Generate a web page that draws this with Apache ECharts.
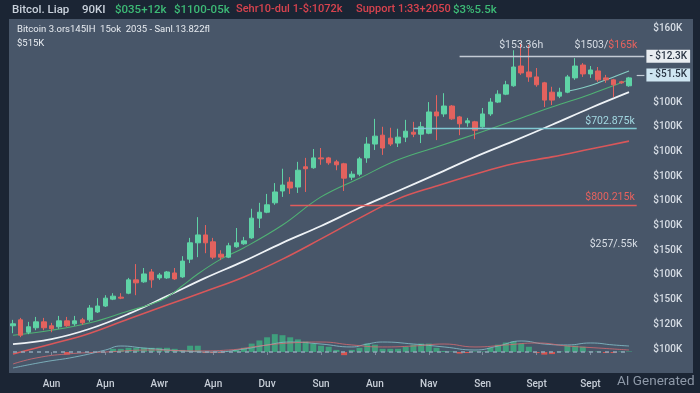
<!DOCTYPE html>
<html><head><meta charset="utf-8">
<script src="https://cdn.jsdelivr.net/npm/echarts@6/dist/echarts.min.js"></script>
<style>html,body{margin:0;padding:0;background:#1b2534;}#c{width:700px;height:393px;}</style>
</head><body><div id="c"></div><script>
// ---- data ----
const xTickLabels = ["Aun","Aμn","Awr","Aμn","Duv","Sun","Aun","Nav","Sen","Sept","Sept"];
const yTickLabels = ["", "$100K","$120K","$150K","$100K","$150K","$100K","$100K","$100K","$100K","$100K","$100K","","","$160K"];
const open = [99.7,100.9,98.4,99.3,100.5,99.7,99.5,100.7,100.1,100.9,
  100.9,102.5,103.7,105.1,105.5,106.3,109.0,108.6,110.6,109.4,
  109.4,110.4,109.6,113.2,116.5,118.1,116.7,114.2,113.6,115.7,
  116.3,117.5,121.5,122.7,124.6,127.0,128.8,127.8,131.9,131.7,
  133.7,133.7,132.9,132.5,129.8,130.4,133.7,136.5,138.3,137.7,
  136.7,137.9,138.9,138.5,138.7,143.0,142.6,144.2,142.0,140.8,
  141.0,140.0,142.6,145.0,146.6,148.3,152.3,151.1,150.1,148.9,
  147.0,146.2,147.0,149.9,152.5,150.7,151.3,149.9,149.5,149.1,148.3];
const close = [100.1,97.8,99.5,100.5,99.3,99.1,100.7,99.7,100.7,100.3,
  103.3,103.7,105.3,105.7,105.3,109.0,108.4,110.2,109.0,110.0,
  110.6,109.2,112.8,116.5,118.1,116.5,113.6,113.6,115.9,116.5,
  116.9,121.5,122.7,124.2,126.8,128.2,127.6,131.2,131.5,133.7,
  133.5,132.7,132.3,129.6,130.4,133.5,136.5,138.1,135.7,136.5,
  137.9,139.1,138.5,140.0,143.0,142.2,144.2,141.6,140.6,141.2,
  139.3,142.6,145.0,146.6,148.5,152.1,150.9,150.1,148.5,145.4,
  145.4,147.0,150.1,152.3,150.7,151.5,149.5,149.5,148.5,148.9,149.9];
const low = [98.2,97.4,98.0,98.8,98.8,98.4,99.1,99.5,99.7,99.9,
  100.5,102.3,103.5,104.9,105.1,106.1,105.9,108.4,107.4,109.0,
  109.2,109.0,109.4,112.4,113.6,114.4,113.2,113.0,113.4,115.5,
  116.1,117.3,119.5,122.5,124.2,125.8,126.4,126.6,126.8,131.5,
  132.3,132.3,131.2,127.0,129.2,130.0,132.7,135.3,134.3,136.1,
  135.9,136.9,137.9,136.7,138.5,137.3,142.0,141.4,138.3,140.0,
  137.5,139.8,142.2,144.8,146.4,148.1,150.5,149.1,148.1,144.0,
  144.4,145.8,146.8,149.5,150.1,149.9,149.1,148.9,146.0,148.7,148.1];
const high = [100.9,101.3,100.5,101.5,101.3,100.3,101.7,101.5,101.7,101.3,
  103.9,105.3,105.9,106.3,106.3,109.4,112.2,111.4,111.2,110.4,
  110.8,111.4,113.8,117.5,121.7,120.1,117.5,115.0,116.5,119.5,
  117.7,123.4,124.6,126.4,128.6,131.5,129.8,132.9,133.7,135.5,
  135.7,133.9,133.3,132.7,131.0,133.9,137.9,141.6,140.0,139.8,
  139.6,141.4,141.0,141.0,145.0,146.4,146.8,144.4,142.2,141.8,
  141.2,143.8,145.8,147.4,149.3,155.5,157.0,156.6,151.9,149.1,
  148.1,147.9,150.5,153.9,152.9,152.3,152.1,150.5,149.7,149.3,150.1];
// moving averages as [candle index, value]
const maGreen = [[0,97.8],[5,98.8],[10,100.3],[15,102.7],[18,104.1],[20,105.5],[22,107.8],[24,110.2],[27,113.2],[30,115.5],[35,120.1],[40,125.8],[45,129.6],[50,133.3],[55,135.9],[60,138.5],[65,141.2],[70,144.0],[75,146.6],[80,149.5]];
const maTeal = [[72,147.2],[74,147.9],[76,148.9],[78,150.1],[80,151.3]];
const maWhite = [[0,96.0],[5,97.0],[10,99.1],[15,102.1],[20,105.7],[25,109.4],[30,112.8],[35,116.5],[40,119.9],[45,123.6],[50,127.0],[55,130.4],[60,133.9],[65,137.1],[70,140.4],[75,143.8],[80,147.0]];
const maRed = [[0,94.0],[5,96.0],[10,98.2],[15,101.1],[20,103.9],[25,106.7],[30,109.6],[35,113.2],[40,117.3],[45,121.5],[50,125.4],[55,128.0],[60,130.4],[65,132.5],[70,133.9],[75,135.5],[80,137.1]];
// lower pane
const histogram = [0,0,0,0,0,0,0,-2.5,0,0,0,0,0,
  3,3,4,4,4,4,4,4,3,2,6,6,
  -1,-1,-1,0.5,2,4,8,11,14,17,16,14,12,10,8,6,5,2,-3,
  2,4,8,7,3,3,3,5,7,8,8,4,1,0.5,-1.5,-1,0.5,0.5,
  4,7,9,10,8,5,-1,-2.5,-2,0.5,6,6,5,0.5,0.5,-1,-1,0.5,0.5];
const macdLine = [[0,-15.2],[4,-9.5],[8,-4.8],[12,1.9],[14,5.7],[17,3.8],[22,1.0],[26,0],[30,2.9],[33,6.7],[36,9.5],[40,7.6],[44,4.8],[46,7.6],[48,9.5],[52,7.6],[56,4.8],[60,1.9],[63,5.7],[66,10.5],[69,7.6],[72,6.7],[75,8.6],[78,6.7],[80,5.7]];
const signalLine = [[0,-11.4],[3,-5.7],[7,-1.9],[12,0],[18,1.9],[24,1.0],[28,1.9],[32,5.7],[36,8.6],[40,9.5],[44,6.7],[48,4.8],[52,5.7],[56,7.6],[60,4.8],[64,6.7],[68,8.6],[72,5.7],[76,3.8],[80,1.9]];
// levels
const levelTop = 154.3, levelBox = 150.5, levelTeal = 139.6, levelRed = 124.2;

// ---- build ----
const nCats = open.length + 2;
const categories = [];
for (let i = 0; i < nCats; i++) categories.push('d' + i);
const ohlc = open.map((o, i) => [o, close[i], low[i], high[i]]);
const showTick = (i) => i >= 5 && i <= 75 && (i - 5) % 7 === 0;

const UP = '#5fd3a6', DOWN = '#e4625e';
const FONT = 'Roboto, "Liberation Sans", sans-serif';
const txt = (x, y, t, color, size, weight) => ({
  type: 'text', left: x, top: y, z: 10,
  style: { text: t, fill: color, font: (weight || 'normal') + ' ' + size + 'px ' + FONT }
});

const chart = echarts.init(document.getElementById('c'), null, { renderer: 'canvas' });
chart.setOption({
  animation: false,
  backgroundColor: '#1b2534',
  textStyle: { fontFamily: FONT },
  graphic: [
    { type: 'rect', shape: { x: 9, y: 19, width: 684, height: 354 }, style: { fill: '#485669' }, z: -10 },
    txt(12, 4, 'Bitcol. Liap', '#c9d1db', 11.5, '500'),
    txt(82, 4, '90KI', '#c9d1db', 11.5, '500'),
    txt(115, 4, '$035+12k', '#3dba76', 11.5, '500'),
    txt(174, 4, '$1100-05k', '#3dba76', 11.5, '500'),
    txt(236, 4, 'Sehr10-dul 1-$:1072k', '#d8434e', 11, '500'),
    txt(356, 4, 'Support 1:33+2050', '#d8434e', 11, '500'),
    txt(453, 4, '$3%5.5k', '#3dba76', 11.5, '500'),
    txt(17, 25, 'Bitcoin 3.ors145IH  15ok  2035 - Sanl.13.822fl', '#e8ecf1', 9.5),
    txt(17, 39, '$515K', '#e8ecf1', 9.5),
    txt(617, 375, 'AI Generated', '#8e99a8', 13.5)
  ],
  grid: [
    { left: 9.15, right: 51.75, top: 28, bottom: 19.3 },
    { left: 9.15, right: 51.75, top: 331, bottom: 20 }
  ],
  xAxis: [
    { type: 'category', gridIndex: 0, data: categories, boundaryGap: true,
      axisLine: { show: false }, axisTick: { show: false }, axisLabel: { show: false }, splitLine: { show: false } },
    { type: 'category', gridIndex: 1, data: categories, boundaryGap: true,
      axisLine: { show: false },
      axisTick: { show: true, interval: showTick, alignWithLabel: true, length: 3, lineStyle: { color: '#7d8b9c' } },
      axisLabel: { interval: showTick, margin: 6, color: '#c8cfd8', fontSize: 10, fontWeight: 500,
        formatter: (v, i) => xTickLabels[(i - 5) / 7] || '' },
      splitLine: { show: false } }
  ],
  yAxis: [
    { type: 'value', gridIndex: 0, position: 'right', min: 90, max: 160, interval: 5,
      axisLine: { show: false }, axisTick: { show: false }, splitLine: { show: false },
      axisLabel: { margin: 5, color: '#d7dde5', fontSize: 10, fontWeight: 500,
        formatter: (v) => yTickLabels[Math.round((v - 90) / 5)] || '' } },
    { type: 'value', gridIndex: 1, min: -20, max: 20, show: false }
  ],
  series: [
    { type: 'line', name: 'MA red', data: maRed, smooth: 0.4, symbol: 'none', connectNulls: true,
      lineStyle: { color: '#d9575a', width: 1.6 }, z: 2 },
    { type: 'line', name: 'MA white', data: maWhite, smooth: 0.4, symbol: 'none',
      lineStyle: { color: '#eef2f6', width: 1.8 }, z: 2 },
    { type: 'line', name: 'MA green', data: maGreen, smooth: 0.4, symbol: 'none',
      lineStyle: { color: '#4fb274', width: 1.1 }, z: 2 },
    { type: 'line', name: 'MA teal', data: maTeal, smooth: 0.4, symbol: 'none',
      lineStyle: { color: '#86cfc4', width: 1.1 }, z: 2 },
    { type: 'candlestick', name: 'BTC', data: ohlc, barWidth: 5, z: 3,
      itemStyle: { color: UP, color0: DOWN, borderColor: UP, borderColor0: DOWN, borderWidth: 1 },
      markLine: {
        symbol: ['none', 'none'], silent: true,
        data: [
          [ { coord: [58, levelTop], lineStyle: { color: '#c3cbd5', width: 1.3, type: 'solid' },
              label: { show: true, position: 'end', distance: 2, formatter: '- $12.3K', color: '#2a3544',
                backgroundColor: '#e9edf1', padding: [2, 3, 1, 3], fontSize: 10, fontWeight: 500 } },
            { coord: [82, levelTop] } ],
          [ { coord: [81, levelBox], lineStyle: { color: '#c3cbd5', width: 1.2, type: 'solid' },
              label: { show: true, position: 'end', distance: 2, formatter: '- $51.5K', color: '#2a3544',
                backgroundColor: '#cfe6f2', padding: [2, 3, 1, 3], fontSize: 10, fontWeight: 500 } },
            { coord: [82, levelBox] } ],
          [ { coord: [52, levelTeal], lineStyle: { color: '#7fc8d2', width: 1.3, type: 'solid' },
              label: { show: true, position: 'insideEndTop', distance: 2, formatter: '$702.875k', color: '#a3d8e2', fontSize: 10.5 } },
            { coord: [81, levelTeal] } ],
          [ { coord: [36, levelRed], lineStyle: { color: '#e05c5c', width: 1.3, type: 'solid' },
              label: { show: true, position: 'insideEndTop', distance: 2, formatter: '$800.215k', color: '#e8625e', fontSize: 10.5 } },
            { coord: [81, levelRed] } ]
        ]
      },
      markPoint: {
        symbol: 'rect', symbolSize: 1, itemStyle: { color: 'rgba(0,0,0,0)' }, silent: true,
        label: { show: true, position: 'inside', fontSize: 10.5, color: '#d7dde5' },
        data: [
          { coord: [66, 156.4], label: { formatter: '$153.36h' } },
          { coord: [77, 156.4], label: { formatter: '{a|$1503/}{b|$165k}',
              rich: { a: { color: '#d7dde5', fontSize: 10.5 }, b: { color: '#e8625e', fontSize: 10.5 } } } },
          { coord: [78, 116.1], label: { formatter: '$257/.55k' } }
        ]
      }
    },
    { type: 'bar', name: 'hist', xAxisIndex: 1, yAxisIndex: 1, data: histogram, barWidth: 6,
      itemStyle: { color: (p) => p.value >= 0 ? '#3f9f7d' : '#d9534f' },
      markLine: { symbol: ['none', 'none'], silent: true, label: { show: false },
        lineStyle: { color: '#8ea6b8', width: 1.5, type: [4, 4] },
        data: [[ { coord: [0, 0] }, { coord: [80, 0] } ]] }, z: 2 },
    { type: 'line', name: 'macd', xAxisIndex: 1, yAxisIndex: 1, data: macdLine, smooth: 0.5, symbol: 'none',
      lineStyle: { color: '#86c2cc', width: 1, opacity: 0.8 }, z: 2 },
    { type: 'line', name: 'signal', xAxisIndex: 1, yAxisIndex: 1, data: signalLine, smooth: 0.5, symbol: 'none',
      lineStyle: { color: '#d66a70', width: 1, opacity: 0.8 }, z: 2 }
  ]
});
</script></body></html>
